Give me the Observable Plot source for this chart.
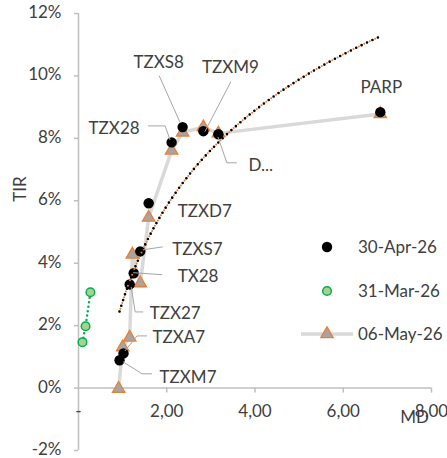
<!DOCTYPE html>
<html><head><meta charset="utf-8">
<script src="https://cdn.jsdelivr.net/npm/d3@7"></script>
<script src="https://cdn.jsdelivr.net/npm/@observablehq/plot@0.6"></script>
<style>body{margin:0;background:#fff}svg{font-family:Lato,sans-serif}</style>
</head><body><div id="chart"></div>
<script>
// ---- data ----
const tickers = ["TZXM7","TZXA7","TZX27","TX28","TZXS7","TZXD7","TZX28","TZXS8","TZXM9","D...","PARP"];
const mdApr  = [0.93,1.02,1.16,1.25,1.40,1.59,2.11,2.36,2.83,3.17,6.84];
const tirApr = [0.89,1.11,3.32,3.68,4.38,5.92,7.87,8.36,8.23,8.13,8.84];
const mdMay  = [0.91,1.00,1.16,1.22,1.40,1.59,2.11,2.36,2.83,3.17,6.84];
const tirMay = [-0.02,1.31,1.62,4.28,3.36,5.46,7.61,8.19,8.36,8.16,8.78];
const mdMar  = [0.09,0.16,0.27];
const tirMar = [1.47,1.98,3.07];
const seriesNames = ["30-Apr-26","31-Mar-26","06-May-26"];
const xTicks = [0,2,4,6,8];
const xTickLabels = ["-","2,00","4,00","6,00","8,00"];
const yTicks = [-2,0,2,4,6,8,10,12];
const yTickLabels = ["-2%","0%","2%","4%","6%","8%","10%","12%"];
const xTitle = "MD", yTitle = "TIR";

// ---- label layout (pixel offsets from each 30-Apr point) ----
const labelLayout = [
  {dx:40, dy:17, a:"start", lead:[[4,2],[23,14],[33,14]]},
  {dx:29, dy:-16, a:"start", lead:[[2,-2],[14,-17],[24,-17]]},
  {dx:20, dy:29, a:"start", lead:[[2,3],[6,28],[14,28]]},
  {dx:44, dy:3, a:"start", lead:[[0,0],[29,2]]},
  {dx:32, dy:-2, a:"start", lead:[[3,-1],[23,-4]]},
  {dx:29, dy:8, a:"start", lead:null},
  {dx:-32, dy:-14, a:"end", lead:[[-23,-16],[-6,-16],[-1,-2]]},
  {dx:-24, dy:-65, a:"middle", lead:[[-23,-51],[-2,-4]]},
  {dx:27, dy:-64, a:"middle", lead:[[28,-49],[2,1]]},
  {dx:30, dy:31, a:"start", lead:[[0,3],[9,29],[19,29]]},
  {dx:1, dy:-25, a:"middle", lead:null}
];

const apr = tickers.map((t,i)=>({t, md:mdApr[i], tir:tirApr[i]}));
const may = tickers.map((t,i)=>({t, md:mdMay[i], tir:tirMay[i]})).sort((a,b)=>a.md-b.md);
const mar = mdMar.map((m,i)=>({md:m, tir:tirMar[i]}));

// logarithmic trendline (least squares on ln x), like the spreadsheet trendline
function logTrend(rows){
  const lx = rows.map(d=>Math.log(d.md)), ys = rows.map(d=>d.tir);
  const mx = d3.mean(lx), my = d3.mean(ys);
  const b = d3.sum(lx,(v,i)=>(v-mx)*(ys[i]-my))/d3.sum(lx,v=>(v-mx)**2);
  const a = my - b*mx;
  const [lo,hi] = d3.extent(rows,d=>d.md);
  return d3.range(0,101).map(k=>{const x=lo+(hi-lo)*k/100; return {md:x, tir:a+b*Math.log(x)};});
}
const trendApr = logTrend(apr);

const ink = "#404040", axisGray = "#bfbfbf";

const marks = [
  Plot.ruleX([0], {stroke: axisGray, strokeWidth: 1.5}),
  Plot.ruleY([0], {stroke: axisGray, strokeWidth: 1.5}),
  Plot.ruleY(yTicks, {y: d=>d, x1: 0, x2: 0, insetLeft: -4, stroke: axisGray, strokeWidth: 1.5}),
  Plot.text(yTicks, {x: 0, y: d=>d, text: (d,i)=>yTickLabels[i], textAnchor: "end", dx: -17, dy: -1, fill: ink}),
  Plot.ruleX(xTicks.slice(1), {x: d=>d, y1: 0, y2: 0, insetBottom: -5, stroke: axisGray, strokeWidth: 1.5}),
  Plot.text(xTicks, {x: d=>d, y: 0, text: (d,i)=>xTickLabels[i], dy: 23, fill: ink}),
  Plot.text([xTitle], {frameAnchor: "bottom-right", text: d=>d, textAnchor: "middle", lineAnchor: "middle", dx: -17, dy: -33, fill: ink}),
  Plot.text([yTitle], {frameAnchor: "left", text: d=>d, textAnchor: "middle", lineAnchor: "middle", rotate: -90, dx: -58, dy: -43, fill: ink}),
  // 06-May series
  Plot.line(may, {x: "md", y: "tir", stroke: "#d9d9d9", strokeWidth: 3.5}),
  Plot.dot(may, {x: "md", y: "tir", symbol: "triangle", r: 4.6, fill: "#a5a5a5", stroke: "#ed7d31", strokeWidth: 1.3}),
  // 31-Mar series
  Plot.line(mar, {x: "md", y: "tir", stroke: "#00b050", strokeWidth: 2.5, strokeDasharray: "0 4.5", strokeLinecap: "round"}),
  Plot.dot(mar, {x: "md", y: "tir", r: 4.3, fill: "#a9d18e", stroke: "#00b050", strokeWidth: 1.5}),
  // 30-Apr series
  Plot.dot(apr, {x: "md", y: "tir", r: 5.2, fill: "#000"}),
  // trendline (orange round dots under black round dots)
  Plot.line(trendApr, {x: "md", y: "tir", stroke: "#ed7d31", strokeWidth: 2, strokeDasharray: "0 3", strokeLinecap: "round"}),
  Plot.line(trendApr, {x: "md", y: "tir", stroke: "#000", strokeWidth: 2.6, strokeDasharray: "0 6", strokeLinecap: "round"}),
];
labelLayout.forEach((L,i)=>{
  marks.push(Plot.text([apr[i]], {x: "md", y: "tir", text: "t", dx: L.dx, dy: L.dy, textAnchor: L.a, fill: ink}));
});

const plot = Plot.plot({
  width: 447, height: 458,
  marginLeft: 78, marginRight: 16, marginTop: 13, marginBottom: 8,
  x: {domain: [0, 8], axis: null},
  y: {domain: [-2, 12], axis: null},
  style: {fontFamily: "Lato, sans-serif", fontSize: "17px", color: ink, background: "#fff", overflow: "visible"},
  marks
});

// leader lines, positioned with the plot's own scales
const sx = plot.scale("x"), sy = plot.scale("y");
const svg = d3.select(plot);
const gl = svg.append("g").attr("fill","none").attr("stroke","#a6a6a6").attr("stroke-width",1);
labelLayout.forEach((L,i)=>{
  if (!L.lead) return;
  const px = sx.apply(apr[i].md), py = sy.apply(apr[i].tir);
  gl.append("path").attr("d", d3.line()(L.lead.map(([a,b])=>[px+a, py+b])));
});

// legend (inside the plot area, right side)
const lg = svg.append("g").attr("font-family","Lato, sans-serif").attr("font-size","17px").attr("fill",ink).attr("text-anchor","start");
const legendX = 327, legendTextX = 358, legendY = [247, 291, 334];
lg.append("circle").attr("cx",legendX).attr("cy",legendY[0]).attr("r",5.2).attr("fill","#000");
lg.append("circle").attr("cx",legendX).attr("cy",legendY[1]).attr("r",4.3).attr("fill","#a9d18e").attr("stroke","#00b050").attr("stroke-width",1.5);
lg.append("line").attr("x1",legendX-26).attr("x2",legendX+26).attr("y1",legendY[2]).attr("y2",legendY[2]).attr("stroke","#d9d9d9").attr("stroke-width",3.5);
lg.append("path").attr("transform",`translate(${legendX},${legendY[2]})`)
  .attr("d", d3.symbol(d3.symbolTriangle, Math.PI*4.6*4.6)()).attr("fill","#a5a5a5").attr("stroke","#ed7d31").attr("stroke-width",1.3);
seriesNames.forEach((n,i)=>{
  lg.append("text").attr("x",legendTextX).attr("y",legendY[i]).attr("dy","0.35em").text(n);
});

document.getElementById("chart").appendChild(plot);
</script>
</body></html>
